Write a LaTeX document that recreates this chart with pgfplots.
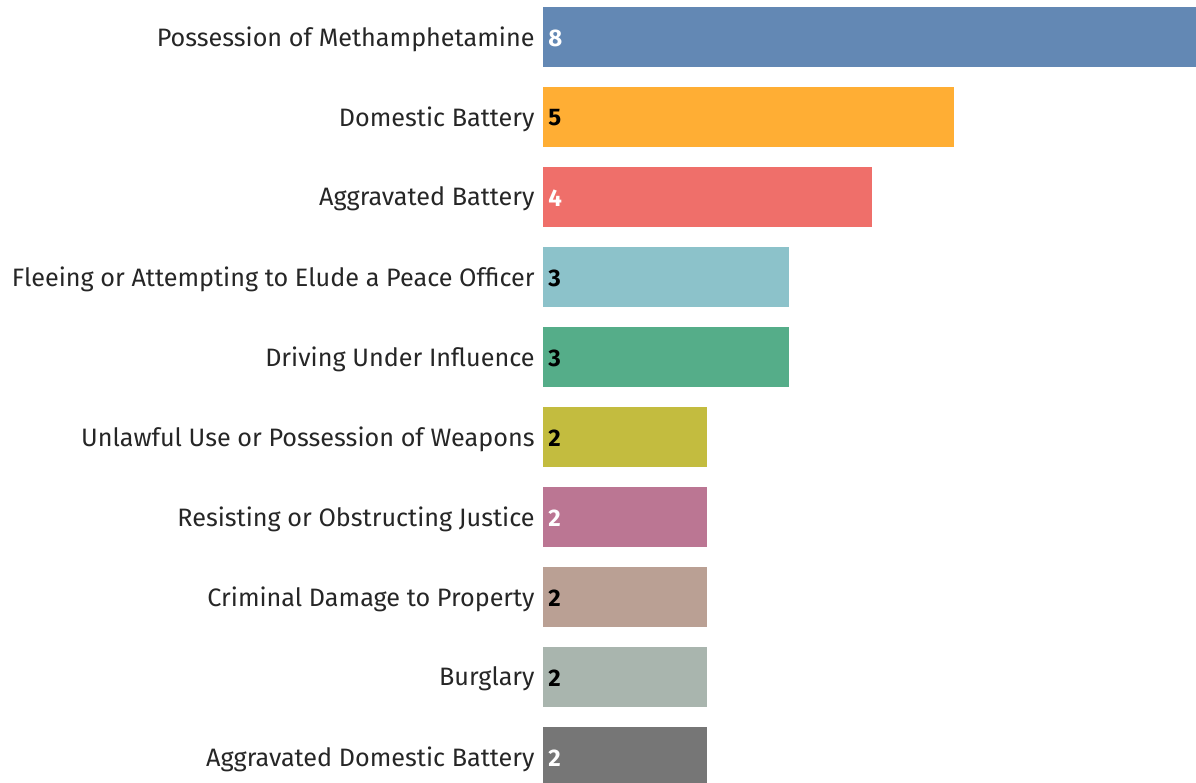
\documentclass[border=0pt]{standalone}
\usepackage{pgfplots}
\pgfplotsset{compat=1.18}
\usepackage{fontspec}
\setmainfont{Fira Sans}
% Superfishel Stone palette
\definecolor{c1}{HTML}{6388B4}
\definecolor{c2}{HTML}{FFAE34}
\definecolor{c3}{HTML}{EF6F6A}
\definecolor{c4}{HTML}{8CC2CA}
\definecolor{c5}{HTML}{55AD89}
\definecolor{c6}{HTML}{C3BC3F}
\definecolor{c7}{HTML}{BB7693}
\definecolor{c8}{HTML}{BAA094}
\definecolor{c9}{HTML}{A9B5AE}
\definecolor{c10}{HTML}{767676}
\begin{document}
\begin{tikzpicture}
\begin{axis}[
  at={(271.5pt,0pt)}, anchor=south west,
  scale only axis,
  width=326.5pt, height=391.5pt,
  xbar, bar shift=0pt, bar width=0.75,
  xmin=0, xmax=7.95,
  ymin=-0.4625, ymax=9.325,
  y dir=reverse,
  xtick=\empty,
  ytick={0,...,9},
  yticklabels={Possession of Methamphetamine,Domestic Battery,Aggravated Battery,Fleeing or Attempting to Elude a Peace Officer,Driving Under Influence,Unlawful Use or Possession of Weapons,Resisting or Obstructing Justice,Criminal Damage to Property,Burglary,Aggravated Domestic Battery},
  yticklabel style={font=\fontsize{12.6}{14}\selectfont, text=black!85, inner sep=0pt, xshift=-4pt, yshift=-1pt},
  axis line style={draw=none},
  major tick length=0pt,
  nodes near coords style={font=\fontsize{12}{14}\selectfont\bfseries, anchor=west, inner sep=0pt, xshift=2.5pt, yshift=-0.5pt},
]
\addplot[fill=c1, draw=none] coordinates {(8,0)};
\addplot[fill=c2, draw=none] coordinates {(5,1)};
\addplot[fill=c3, draw=none] coordinates {(4,2)};
\addplot[fill=c4, draw=none] coordinates {(3,3)};
\addplot[fill=c5, draw=none] coordinates {(3,4)};
\addplot[fill=c6, draw=none] coordinates {(2,5)};
\addplot[fill=c7, draw=none] coordinates {(2,6)};
\addplot[fill=c8, draw=none] coordinates {(2,7)};
\addplot[fill=c9, draw=none] coordinates {(2,8)};
\addplot[fill=c10, draw=none] coordinates {(2,9)};
% value labels at the start of each bar
\addplot[draw=none, xbar=0pt, bar width=0, nodes near coords, point meta=explicit symbolic,
  nodes near coords style={text=white}]
  coordinates {(0,0) [8] (0,2) [4] (0,6) [2] (0,9) [2]};
\addplot[draw=none, xbar=0pt, bar width=0, nodes near coords, point meta=explicit symbolic,
  nodes near coords style={text=black}]
  coordinates {(0,1) [5] (0,3) [3] (0,4) [3] (0,5) [2] (0,7) [2] (0,8) [2]};
\end{axis}
\pgfresetboundingbox
\useasboundingbox (0,0) rectangle (598pt,391.5pt);
\end{tikzpicture}
\end{document}
